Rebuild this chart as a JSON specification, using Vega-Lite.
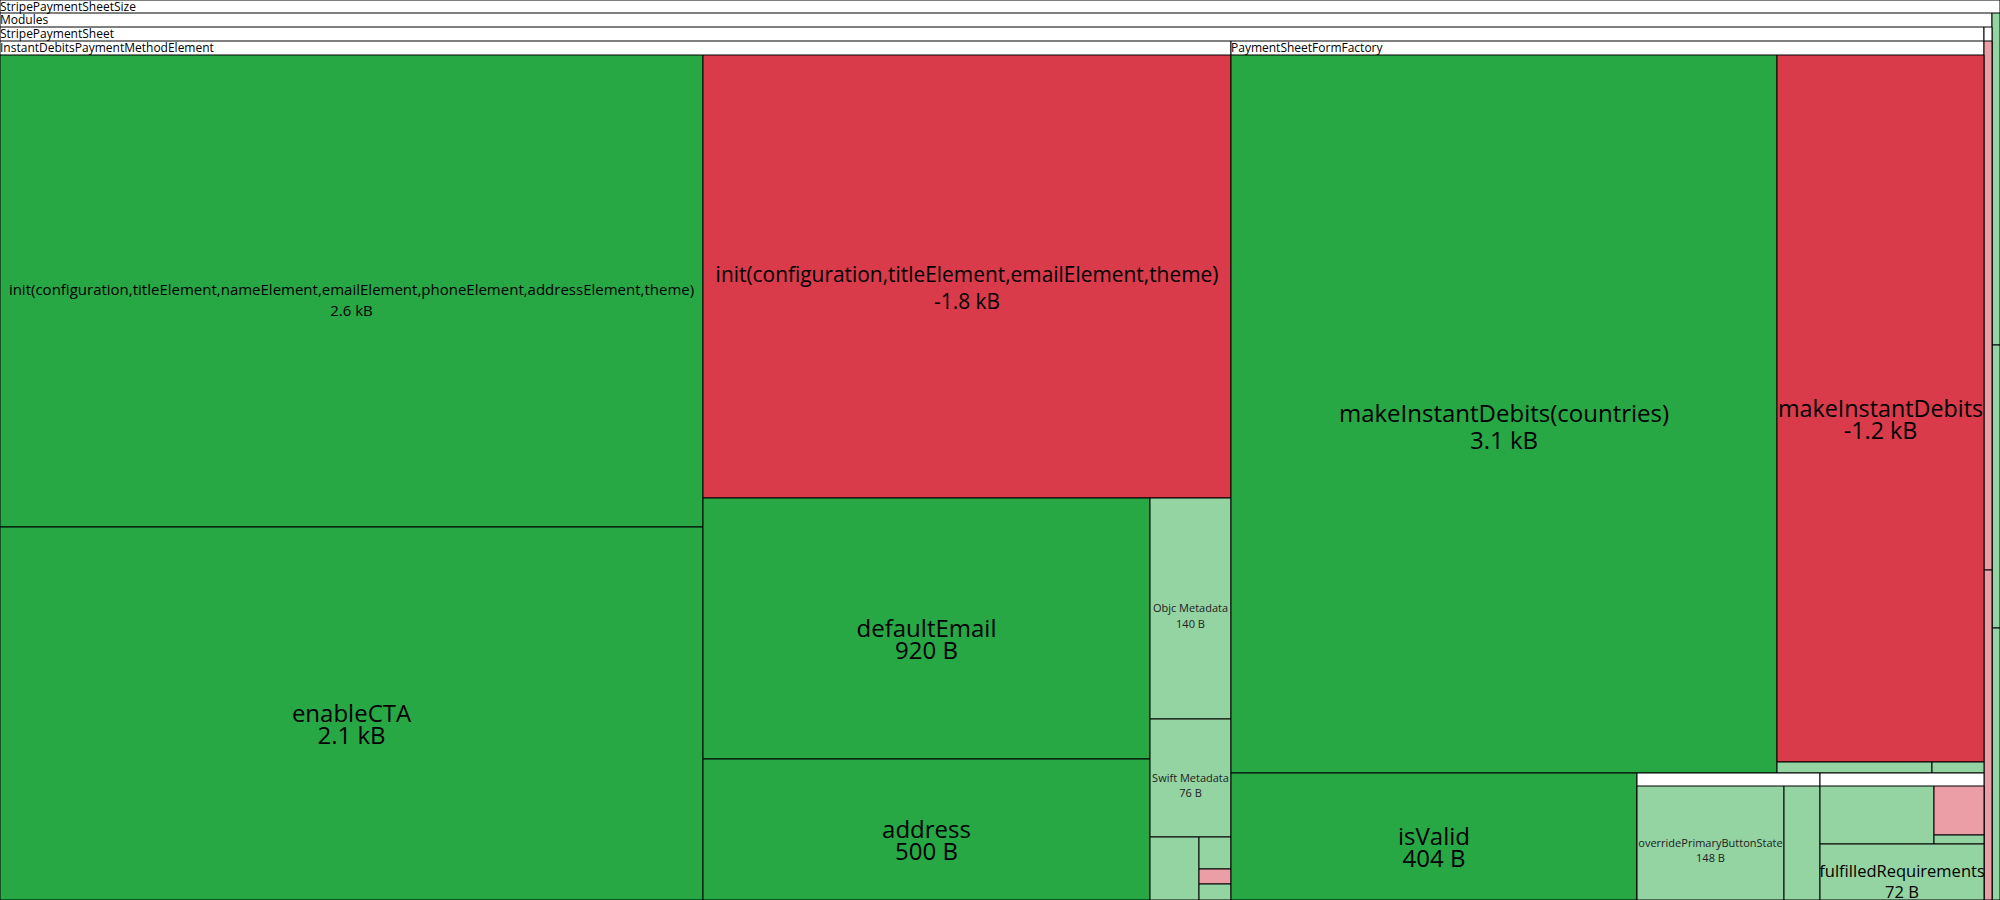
{
  "$schema": "https://vega.github.io/schema/vega-lite/v6.json",
  "autosize": {"type": "none"},
  "width": 2000,
  "height": 900,
  "padding": 0,
  "background": "white",
  "config": {"view": {"stroke": null}, "font": "Open Sans"},
  "data": {
    "values": [
      {"name": "StripePaymentSheetSize", "size": "", "kind": "group", "role": "group", "x0": 0, "x1": 2000, "y0": 0, "y1": 900},
      {"name": "Modules", "size": "", "kind": "group", "role": "group", "x0": 0, "x1": 1992, "y0": 13, "y1": 900},
      {"name": "", "size": "", "kind": "small increase", "role": "leaf", "x0": 1992, "x1": 2000, "y0": 13, "y1": 345},
      {"name": "", "size": "", "kind": "small increase", "role": "leaf", "x0": 1992, "x1": 2000, "y0": 345, "y1": 628},
      {"name": "", "size": "", "kind": "small increase", "role": "leaf", "x0": 1992, "x1": 2000, "y0": 628, "y1": 900},
      {"name": "StripePaymentSheet", "size": "", "kind": "group", "role": "group", "x0": 0, "x1": 1984, "y0": 27, "y1": 900},
      {"name": "", "size": "", "kind": "group", "role": "group", "x0": 1984, "x1": 1992, "y0": 27, "y1": 900},
      {"name": "InstantDebitsPaymentMethodElement", "size": "", "kind": "group", "role": "group", "x0": 0, "x1": 1231, "y0": 41, "y1": 900},
      {"name": "PaymentSheetFormFactory", "size": "", "kind": "group", "role": "group", "x0": 1231, "x1": 1984, "y0": 41, "y1": 900},
      {"name": "", "size": "", "kind": "small decrease", "role": "leaf", "x0": 1984, "x1": 1992, "y0": 41, "y1": 570},
      {"name": "", "size": "", "kind": "small decrease", "role": "leaf", "x0": 1984, "x1": 1992, "y0": 570, "y1": 900},
      {"name": "init(configuration,titleElement,nameElement,emailElement,phoneElement,addressElement,theme)", "size": "2.6 kB", "kind": "increase", "role": "leaf", "x0": 0, "x1": 703, "y0": 55, "y1": 527},
      {"name": "enableCTA", "size": "2.1 kB", "kind": "increase", "role": "leaf", "x0": 0, "x1": 703, "y0": 527, "y1": 900},
      {"name": "init(configuration,titleElement,emailElement,theme)", "size": "-1.8 kB", "kind": "decrease", "role": "leaf", "x0": 703, "x1": 1231, "y0": 55, "y1": 498},
      {"name": "defaultEmail", "size": "920 B", "kind": "increase", "role": "leaf", "x0": 703, "x1": 1150, "y0": 498, "y1": 759},
      {"name": "address", "size": "500 B", "kind": "increase", "role": "leaf", "x0": 703, "x1": 1150, "y0": 759, "y1": 900},
      {"name": "Objc Metadata", "size": "140 B", "kind": "small increase", "role": "leaf", "x0": 1150, "x1": 1231, "y0": 498, "y1": 719},
      {"name": "Swift Metadata", "size": "76 B", "kind": "small increase", "role": "leaf", "x0": 1150, "x1": 1231, "y0": 719, "y1": 837},
      {"name": "", "size": "", "kind": "small increase", "role": "leaf", "x0": 1150, "x1": 1199, "y0": 837, "y1": 900},
      {"name": "", "size": "", "kind": "small increase", "role": "leaf", "x0": 1199, "x1": 1231, "y0": 837, "y1": 869},
      {"name": "", "size": "", "kind": "small decrease", "role": "leaf", "x0": 1199, "x1": 1231, "y0": 869, "y1": 884},
      {"name": "", "size": "", "kind": "small increase", "role": "leaf", "x0": 1199, "x1": 1231, "y0": 884, "y1": 900},
      {"name": "makeInstantDebits(countries)", "size": "3.1 kB", "kind": "increase", "role": "leaf", "x0": 1231, "x1": 1777, "y0": 55, "y1": 773},
      {"name": "makeInstantDebits", "size": "-1.2 kB", "kind": "decrease", "role": "leaf", "x0": 1777, "x1": 1984, "y0": 55, "y1": 762},
      {"name": "", "size": "", "kind": "small increase", "role": "leaf", "x0": 1777, "x1": 1932, "y0": 762, "y1": 773},
      {"name": "", "size": "", "kind": "small increase", "role": "leaf", "x0": 1932, "x1": 1984, "y0": 762, "y1": 773},
      {"name": "isValid", "size": "404 B", "kind": "increase", "role": "leaf", "x0": 1231, "x1": 1637, "y0": 773, "y1": 900},
      {"name": "", "size": "", "kind": "group", "role": "group", "x0": 1637, "x1": 1820, "y0": 773, "y1": 900},
      {"name": "", "size": "", "kind": "group", "role": "group", "x0": 1820, "x1": 1984, "y0": 773, "y1": 900},
      {"name": "overridePrimaryButtonState", "size": "148 B", "kind": "small increase", "role": "leaf", "x0": 1637, "x1": 1784, "y0": 786, "y1": 900},
      {"name": "", "size": "", "kind": "small increase", "role": "leaf", "x0": 1784, "x1": 1820, "y0": 786, "y1": 900},
      {"name": "", "size": "", "kind": "small increase", "role": "leaf", "x0": 1820, "x1": 1934, "y0": 786, "y1": 844},
      {"name": "", "size": "", "kind": "small decrease", "role": "leaf", "x0": 1934, "x1": 1984, "y0": 786, "y1": 835},
      {"name": "", "size": "", "kind": "small increase", "role": "leaf", "x0": 1934, "x1": 1984, "y0": 835, "y1": 844},
      {"name": "fulfilledRequirements", "size": "72 B", "kind": "small increase", "role": "leaf", "x0": 1820, "x1": 1984, "y0": 844, "y1": 900}
    ]
  },
  "transform": [
    {"calculate": "(datum.x0 + datum.x1) / 2", "as": "xc"},
    {"calculate": "(datum.y0 + datum.y1) / 2", "as": "yc"}
  ],
  "layer": [
    {
      "mark": {"type": "rect", "stroke": "black", "strokeWidth": 1},
      "encoding": {
        "x": {"field": "x0", "type": "quantitative", "scale": {"domain": [0, 2000], "nice": false, "zero": false}, "axis": null},
        "x2": {"field": "x1"},
        "y": {"field": "y0", "type": "quantitative", "scale": {"domain": [0, 900], "nice": false, "zero": false, "reverse": true}, "axis": null},
        "y2": {"field": "y1"},
        "color": {"field": "kind", "type": "nominal", "legend": null,
          "scale": {"domain": ["group", "increase", "decrease", "small increase", "small decrease"],
                    "range": ["#ffffff", "#28a745", "#d93b4b", "#94d3a2", "#ec9ea6"]}}
      }
    },
    {
      "transform": [{"filter": "datum.role === 'group' && datum.name"}],
      "mark": {"type": "text", "align": "left", "baseline": "middle", "dx": 0, "dy": 7, "fontSize": 12, "color": "black"},
      "encoding": {
        "x": {"field": "x0", "type": "quantitative"},
        "y": {"field": "y0", "type": "quantitative"},
        "text": {"field": "name"}
      }
    },
    {
      "transform": [{"filter": {"field": "name", "oneOf": ["enableCTA", "defaultEmail", "address", "isValid"]}}],
      "mark": {"type": "text", "align": "center", "baseline": "middle", "fontSize": 24, "dy": 1.5, "color": "black"},
      "encoding": {"x": {"field": "xc", "type": "quantitative"}, "y": {"field": "yc", "type": "quantitative"}, "text": {"field": "name"}}
    },
    {
      "transform": [{"filter": {"field": "name", "oneOf": ["enableCTA", "defaultEmail", "address", "isValid"]}}],
      "mark": {"type": "text", "align": "center", "baseline": "middle", "fontSize": 24, "dy": 23, "color": "black"},
      "encoding": {"x": {"field": "xc", "type": "quantitative"}, "y": {"field": "yc", "type": "quantitative"}, "text": {"field": "size"}}
    },
    {
      "transform": [{"filter": {"field": "name", "oneOf": ["makeInstantDebits(countries)"]}}],
      "mark": {"type": "text", "align": "center", "baseline": "middle", "fontSize": 24, "dy": 1, "color": "black"},
      "encoding": {"x": {"field": "xc", "type": "quantitative"}, "y": {"field": "yc", "type": "quantitative"}, "text": {"field": "name"}}
    },
    {
      "transform": [{"filter": {"field": "name", "oneOf": ["makeInstantDebits(countries)"]}}],
      "mark": {"type": "text", "align": "center", "baseline": "middle", "fontSize": 24, "dy": 28, "color": "black"},
      "encoding": {"x": {"field": "xc", "type": "quantitative"}, "y": {"field": "yc", "type": "quantitative"}, "text": {"field": "size"}}
    },
    {
      "transform": [{"filter": {"field": "name", "oneOf": ["makeInstantDebits"]}}],
      "mark": {"type": "text", "align": "center", "baseline": "middle", "fontSize": 23.3, "dy": 1.5, "color": "black"},
      "encoding": {"x": {"field": "xc", "type": "quantitative"}, "y": {"field": "yc", "type": "quantitative"}, "text": {"field": "name"}}
    },
    {
      "transform": [{"filter": {"field": "name", "oneOf": ["makeInstantDebits"]}}],
      "mark": {"type": "text", "align": "center", "baseline": "middle", "fontSize": 23.3, "dy": 23, "color": "black"},
      "encoding": {"x": {"field": "xc", "type": "quantitative"}, "y": {"field": "yc", "type": "quantitative"}, "text": {"field": "size"}}
    },
    {
      "transform": [{"filter": {"field": "name", "oneOf": ["init(configuration,titleElement,emailElement,theme)"]}}],
      "mark": {"type": "text", "align": "center", "baseline": "middle", "fontSize": 20.9, "dy": -1, "color": "black"},
      "encoding": {"x": {"field": "xc", "type": "quantitative"}, "y": {"field": "yc", "type": "quantitative"}, "text": {"field": "name"}}
    },
    {
      "transform": [{"filter": {"field": "name", "oneOf": ["init(configuration,titleElement,emailElement,theme)"]}}],
      "mark": {"type": "text", "align": "center", "baseline": "middle", "fontSize": 20.9, "dy": 26, "color": "black"},
      "encoding": {"x": {"field": "xc", "type": "quantitative"}, "y": {"field": "yc", "type": "quantitative"}, "text": {"field": "size"}}
    },
    {
      "transform": [{"filter": {"field": "name", "oneOf": ["init(configuration,titleElement,nameElement,emailElement,phoneElement,addressElement,theme)"]}}],
      "mark": {"type": "text", "align": "center", "baseline": "middle", "fontSize": 15, "dy": -1, "color": "black"},
      "encoding": {"x": {"field": "xc", "type": "quantitative"}, "y": {"field": "yc", "type": "quantitative"}, "text": {"field": "name"}}
    },
    {
      "transform": [{"filter": {"field": "name", "oneOf": ["init(configuration,titleElement,nameElement,emailElement,phoneElement,addressElement,theme)"]}}],
      "mark": {"type": "text", "align": "center", "baseline": "middle", "fontSize": 15, "dy": 20, "color": "black"},
      "encoding": {"x": {"field": "xc", "type": "quantitative"}, "y": {"field": "yc", "type": "quantitative"}, "text": {"field": "size"}}
    },
    {
      "transform": [{"filter": {"field": "name", "oneOf": ["fulfilledRequirements"]}}],
      "mark": {"type": "text", "align": "center", "baseline": "middle", "fontSize": 16.5, "dy": 0, "color": "black"},
      "encoding": {"x": {"field": "xc", "type": "quantitative"}, "y": {"field": "yc", "type": "quantitative"}, "text": {"field": "name"}}
    },
    {
      "transform": [{"filter": {"field": "name", "oneOf": ["fulfilledRequirements"]}}],
      "mark": {"type": "text", "align": "center", "baseline": "middle", "fontSize": 16.5, "dy": 21, "color": "black"},
      "encoding": {"x": {"field": "xc", "type": "quantitative"}, "y": {"field": "yc", "type": "quantitative"}, "text": {"field": "size"}}
    },
    {
      "transform": [{"filter": {"field": "name", "oneOf": ["Objc Metadata", "Swift Metadata", "overridePrimaryButtonState"]}}],
      "mark": {"type": "text", "align": "center", "baseline": "middle", "fontSize": 11, "dy": 0.5, "color": "#222222"},
      "encoding": {"x": {"field": "xc", "type": "quantitative"}, "y": {"field": "yc", "type": "quantitative"}, "text": {"field": "name"}}
    },
    {
      "transform": [{"filter": {"field": "name", "oneOf": ["Objc Metadata", "Swift Metadata", "overridePrimaryButtonState"]}}],
      "mark": {"type": "text", "align": "center", "baseline": "middle", "fontSize": 11, "dy": 16, "color": "#222222"},
      "encoding": {"x": {"field": "xc", "type": "quantitative"}, "y": {"field": "yc", "type": "quantitative"}, "text": {"field": "size"}}
    }
  ]
}
